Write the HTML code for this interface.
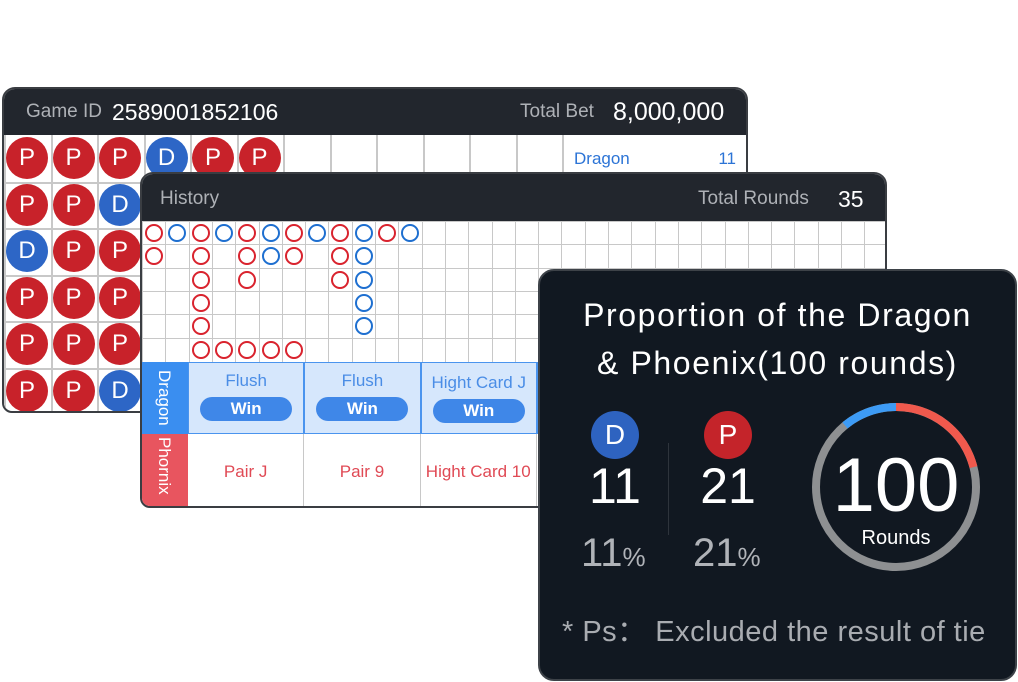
<!DOCTYPE html>
<html><head><meta charset="utf-8">
<style>
*{box-sizing:border-box;margin:0;padding:0}
body{width:1018px;height:682px;background:#fff;position:relative;overflow:hidden;font-family:"Liberation Sans",sans-serif}
.abs{position:absolute}
.card{position:absolute;border:2px solid #3a3d42;border-radius:13px 13px 10px 10px;overflow:hidden;background:#fff}
.hdr{position:absolute;left:0;right:0;top:0;background:#22262d;color:#aeb1b6}
.gl{position:absolute;background:#c8c8c8}
.bead{position:absolute;border-radius:50%;color:#fff;text-align:center;font-size:24px}
.ring{position:absolute;border-radius:50%;border:2px solid}
</style></head><body>

<div class="card" style="left:2px;top:87px;width:746px;height:326px">
  <div class="hdr" style="height:46px">
    <span class="abs" style="left:22px;top:12px;font-size:19px">Game ID</span>
    <span class="abs" style="left:108px;top:10px;font-size:23px;color:#fff">2589001852106</span>
    <span class="abs" style="left:516px;top:12px;font-size:19px">Total Bet</span>
    <span class="abs" style="left:609px;top:9px;font-size:25px;color:#fff">8,000,000</span>
  </div>
  <div id="bead" class="abs" style="left:0;top:46px;width:744px;height:280px"></div>
  <div class="abs" style="left:558px;top:46px;width:186px;height:280px;border-left:2px solid #c8c8c8;background:#fff">
    <span class="abs" style="left:10px;top:14px;font-size:17px;color:#2c74d6">Dragon</span>
    <span class="abs" style="right:12px;top:14px;font-size:17px;color:#2c74d6">11</span>
  </div>
</div>

<div class="card" style="left:140px;top:172px;width:747px;height:336px">
  <div class="hdr" style="height:47px">
    <span class="abs" style="left:18px;top:14px;font-size:19px">History</span>
    <span class="abs" style="left:556px;top:14px;font-size:19px">Total Rounds</span>
    <span class="abs" style="left:696px;top:12px;font-size:23px;color:#fff">35</span>
  </div>
  <div id="big" class="abs" style="left:0;top:47px;width:745px;height:141px"></div>
  <div class="abs" style="left:0;top:188px;width:46px;height:72px;background:#3a8ef0;border-top:2px solid #3a8ef0"><span class="abs" style="left:12px;top:6px;writing-mode:vertical-rl;color:#fff;font-size:17px">Dragon</span></div>
  <div class="abs" style="left:0;top:260px;width:46px;height:76px;background:#e8555f"><span class="abs" style="left:12px;top:3px;writing-mode:vertical-rl;color:#fff;font-size:17px">Phornix</span></div>
  <div id="res" class="abs" style="left:46px;top:188px;width:700px;height:148px"></div>
</div>

<div class="abs" style="left:538px;top:269px;width:479px;height:412px;background:#111821;border:2px solid #3d4248;border-radius:16px">
  <div class="abs" style="left:0;width:475px;top:20px;text-align:center;color:#fff;font-size:32px;letter-spacing:1.6px;line-height:48px">Proportion of the Dragon<br>&amp; Phoenix(100 rounds)</div>
  <div class="abs" style="left:51px;top:140px;width:48px;height:48px;border-radius:50%;background:#2e63c0;color:#fff;font-size:28px;text-align:center;line-height:48px">D</div>
  <div class="abs" style="left:164px;top:140px;width:48px;height:48px;border-radius:50%;background:#c4242a;color:#fff;font-size:28px;text-align:center;line-height:48px">P</div>
  <div class="abs" style="left:35px;width:80px;top:186px;text-align:center;color:#fff;font-size:50px">11</div>
  <div class="abs" style="left:148px;width:80px;top:186px;text-align:center;color:#fff;font-size:50px">21</div>
  <div class="abs" style="left:128px;top:172px;width:1px;height:92px;background:#2e343c"></div>
  <div class="abs" style="left:41px;top:260px;color:#b0b3b8;font-size:40px">11<span style="font-size:26px">%</span></div>
  <div class="abs" style="left:153px;top:260px;color:#b0b3b8;font-size:40px">21<span style="font-size:26px">%</span></div>
  <svg class="abs" style="left:0;top:0" width="475" height="408">
    <g id="donut"></g>
    <text x="356" y="240" text-anchor="middle" fill="#fff" font-size="76" font-family="Liberation Sans">100</text>
    <text x="356" y="273" text-anchor="middle" fill="#fff" font-size="20" font-family="Liberation Sans">Rounds</text>
  </svg>
  <div class="abs" style="left:22px;top:337px;color:#a9acb1;font-size:29px;letter-spacing:0.5px;white-space:nowrap">* Ps：&nbsp;Excluded the result of tie</div>
</div>

<script>
const beadRows=[["P","P","P","D","P","P"],["P","P","D"],["D","P","P"],["P","P","P"],["P","P","P"],["P","P","D"]];
const bigRoad=[["R","B","R","B","R","B","R","B","R","B","R","B"],["R","","R","","R","B","R","","R","B"],["","","R","","R","","","","R","B"],["","","R","","","","","","","B"],["","","R","","","","","","","B"],["","","R","R","R","R","R"]];
const resultTop=["Flush","Flush","Hight Card J"];
const resultBottom=["Pair J","Pair 9","Hight Card 10"];
const dragonCount=11, phoenixCount=21, totalRounds=100;

const bead=document.getElementById('bead');
const bw=46.5;
for(let c=0;c<=12;c++){const l=document.createElement('div');l.className='gl';l.style.cssText=`left:${c*bw}px;top:0;width:2px;height:280px`;bead.appendChild(l);}
for(let r=1;r<6;r++){const l=document.createElement('div');l.className='gl';l.style.cssText=`left:0;top:${r*bw}px;width:744px;height:2px`;bead.appendChild(l);}
beadRows.forEach((row,r)=>row.forEach((v,c)=>{const b=document.createElement('div');b.className='bead';


b.style.cssText=`left:${c*bw+2}px;top:${r*bw+2}px;width:42px;height:42px;line-height:42px;background:${v==='P'?'#c8222a':'#2d66c6'}`;b.textContent=v;bead.appendChild(b);}));

const big=document.getElementById('big');const cw=23.3;
for(let c=0;c<=32;c++){const l=document.createElement('div');l.className='gl';l.style.cssText=`left:${c*cw}px;top:0;width:1px;height:141px`;big.appendChild(l);}
for(let r=0;r<6;r++){const l=document.createElement('div');l.className='gl';l.style.cssText=`left:0;top:${r*cw}px;width:745px;height:1px`;big.appendChild(l);}
bigRoad.forEach((row,r)=>row.forEach((v,c)=>{if(!v)return;const b=document.createElement('div');b.className='ring';


b.style.cssText=`left:${c*cw+3}px;top:${r*cw+3}px;width:18px;height:18px;border-color:${v==='R'?'#d9232e':'#1e6fd0'}`;big.appendChild(b);}));

const res=document.getElementById('res');
for(let i=0;i<6;i++){
 const t=document.createElement('div');t.className='abs';
 
 
 t.style.cssText=`left:${i*116.3}px;top:0;width:116.3px;height:72px;background:#d6e7fc;border:1px solid #4a94ee`;
 if(i<3){t.innerHTML=`<div style="text-align:center;margin-top:${i==2?10:8}px;color:#4a8de6;font-size:17px;white-space:nowrap">${resultTop[i]}</div><div style="margin:6px auto 0;width:92px;height:24px;border-radius:12px;background:#3f87e8;color:#fff;font-weight:bold;font-size:17px;text-align:center;line-height:24px">Win</div>`;}
 res.appendChild(t);
 const b=document.createElement('div');b.className='abs';
 
 
 b.style.cssText=`left:${i*116.3}px;top:72px;width:116.3px;height:76px;background:#fff;border-right:1px solid #c8c8c8;text-align:center;line-height:76px;color:#e04a55;font-size:17px;white-space:nowrap`;
 if(i<3)b.textContent=resultBottom[i];res.appendChild(b);
}

const g=document.getElementById('donut');const cx=356,cy=216,R=80,ns='http://www.w3.org/2000/svg';
function pt(a){const r=(a-90)*Math.PI/180;return [cx+R*Math.cos(r),cy+R*Math.sin(r)];}
function arc(a0,a1,col,name){const p0=pt(a0),p1=pt(a1);const p=document.createElementNS(ns,'path');
p.setAttribute('d',`M${p0[0]} ${p0[1]} A${R} ${R} 0 ${a1-a0>180?1:0} 1 ${p1[0]} ${p1[1]}`);
p.setAttribute('stroke',col);p.setAttribute('stroke-width','8');p.setAttribute('fill','none');


g.appendChild(p);}
const c=document.createElementNS(ns,'circle');c.setAttribute('cx',cx);c.setAttribute('cy',cy);c.setAttribute('r',R);c.setAttribute('stroke','#8e9092');c.setAttribute('stroke-width','8');c.setAttribute('fill','none');


g.appendChild(c);
const dA=dragonCount/totalRounds*360,pA=phoenixCount/totalRounds*360;
arc(-dA,0,'#3d9bf5','dragon-arc');
arc(0,pA,'#f0594d','phoenix-arc');
</script>
</body></html>
